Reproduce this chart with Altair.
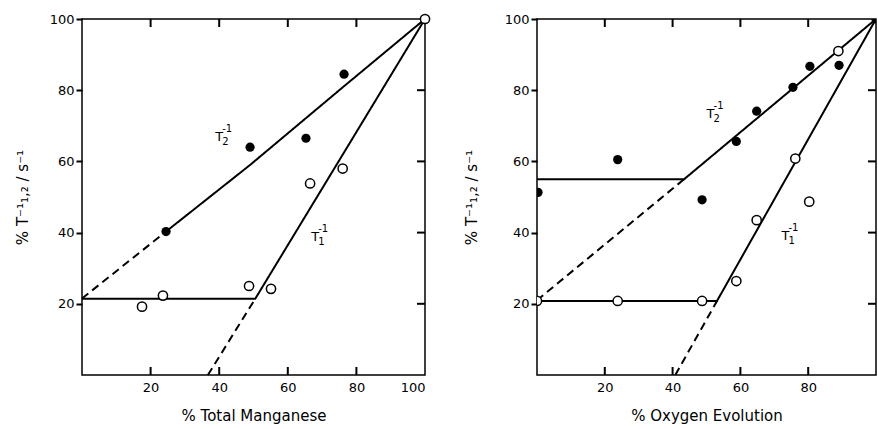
import altair as alt
import pandas as pd

FONT = "DejaVu Sans"

# ---------------- Left panel: % Total Manganese ----------------
L_T2_X = [24.5, 49, 65.3, 76.4]
L_T2_Y = [40.3, 64, 66.5, 84.5]
L_T1_X = [17.5, 23.6, 48.7, 55.1, 66.5, 76, 100]
L_T1_Y = [19.2, 22.3, 25, 24.2, 53.8, 58, 100]

L_T2_SOLID_X = [24.5, 49, 76, 100]
L_T2_SOLID_Y = [40.3, 59, 80.8, 100]
L_T2_DASH_X = [0, 24.5]
L_T2_DASH_Y = [21.5, 40.3]
L_T1_SOLID_X = [0, 50.5, 100]
L_T1_SOLID_Y = [21.4, 21.4, 100]
L_T1_DASH_X = [36.7, 50.5]
L_T1_DASH_Y = [0, 21.4]

L_LABEL_X = [40, 68]
L_LABEL_Y = [66.8, 38.7]
L_LABEL_SUB = ["2", "1"]

# ---------------- Right panel: % Oxygen Evolution ----------------
R_T2_X = [0.3, 23.8, 48.7, 58.8, 64.8, 75.5, 80.5, 89.1, 100]
R_T2_Y = [51.3, 60.5, 49.2, 65.6, 74.1, 80.8, 86.7, 87, 100]
R_T1_X = [0, 23.8, 48.7, 58.8, 64.8, 76.2, 80.3, 88.9]
R_T1_Y = [20.8, 20.8, 20.8, 26.4, 43.5, 60.8, 48.7, 91]

R_T2_SOLID_X = [0, 43.4, 100]
R_T2_SOLID_Y = [55, 55, 100]
R_T2_DASH_X = [0, 43.4]
R_T2_DASH_Y = [21, 55]
R_T1_SOLID_X = [0, 53.1, 100]
R_T1_SOLID_Y = [20.8, 20.8, 100]
R_T1_DASH_X = [40.8, 53.1]
R_T1_DASH_Y = [0, 20.8]

R_LABEL_X = [51.2, 73.3]
R_LABEL_Y = [73.4, 39]
R_LABEL_SUB = ["2", "1"]

Y_TICKS = [20, 40, 60, 80, 100]
L_X_TICKS = [20, 40, 60, 80, 100]
R_X_TICKS = [20, 40, 60, 80]
INNER_TICKS = [20, 40, 60, 80]

Y_TITLE = "% T\u207b\u00b9\u2081,\u2082 / s\u207b\u00b9"


def lines_df(segs):
    rows = []
    for sid, (xs, ys, style) in enumerate(segs):
        for i, (x, y) in enumerate(zip(xs, ys)):
            rows.append({"x": x, "y": y, "seg": sid, "style": style, "i": i})
    return pd.DataFrame(rows)


def panel(t2x, t2y, t1x, t1y, segs, lx, ly, lsub, xticks, xtitle,
          width, height, ytitle_pad, clip):
    scale = alt.Scale(domain=[0, 100], nice=False, zero=False)
    xaxis = alt.Axis(values=xticks, ticks=False, labelPadding=6,
                     titlePadding=14, domain=False, grid=False)
    yaxis = alt.Axis(values=Y_TICKS, ticks=True, tickSize=6, tickWidth=2,
                     tickColor="black", labelPadding=2,
                     titlePadding=ytitle_pad, domain=False, grid=False)
    X = alt.X("x:Q", scale=scale, axis=xaxis, title=xtitle)
    Y = alt.Y("y:Q", scale=scale, axis=yaxis, title=Y_TITLE)

    # inward ticks on the top, bottom and right edges of the frame
    xt = pd.DataFrame({"x": INNER_TICKS})
    yt = pd.DataFrame({"y": INNER_TICKS})
    top_ticks = alt.Chart(xt).mark_tick(
        color="#000000", orient="vertical", size=8, thickness=2, opacity=1
    ).encode(x=X, y=alt.value(4))
    bottom_ticks = alt.Chart(xt).mark_tick(
        color="#000000", orient="vertical", size=8, thickness=2, opacity=1
    ).encode(x=X, y=alt.value(height - 4))
    right_ticks = alt.Chart(yt).mark_tick(
        color="#000000", orient="horizontal", size=8, thickness=2, opacity=1
    ).encode(y=Y, x=alt.value(width - 4))

    ldf = lines_df(segs)
    lines = alt.Chart(ldf).mark_line(color="black", strokeWidth=2, clip=clip).encode(
        x=X, y=Y, detail="seg:N", order="i:Q",
        strokeDash=alt.StrokeDash(
            "style:N",
            scale=alt.Scale(domain=["solid", "dashed"], range=[[1, 0], [8, 5]]),
            legend=None),
    )

    filled = alt.Chart(pd.DataFrame({"x": t2x, "y": t2y})).mark_point(
        shape="circle", filled=True, color="black", size=85, opacity=1, clip=clip
    ).encode(x=X, y=Y)
    opened = alt.Chart(pd.DataFrame({"x": t1x, "y": t1y})).mark_point(
        shape="circle", filled=True, fill="white", stroke="black",
        strokeWidth=1.5, size=85, opacity=1, clip=clip
    ).encode(x=X, y=Y)

    lab = pd.DataFrame({"x": lx, "y": ly, "sub": lsub})
    t_main = alt.Chart(lab).mark_text(
        text="T", font=FONT, fontSize=13, align="center", baseline="middle",
        color="black", clip=clip
    ).encode(x=X, y=Y)
    t_sup = alt.Chart(lab).mark_text(
        text="-1", font=FONT, fontSize=10, align="left", baseline="middle",
        dx=3, dy=-8, color="black", clip=clip
    ).encode(x=X, y=Y)
    t_sub = alt.Chart(lab).mark_text(
        font=FONT, fontSize=10, align="left", baseline="middle",
        dx=3, dy=5, color="black", clip=clip
    ).encode(x=X, y=Y, text="sub:N")

    return alt.layer(
        lines, filled, opened, t_main, t_sup, t_sub,
        top_ticks, bottom_ticks, right_ticks,
    ).properties(width=width, height=height)


left = panel(
    L_T2_X, L_T2_Y, L_T1_X, L_T1_Y,
    [(L_T2_SOLID_X, L_T2_SOLID_Y, "solid"), (L_T2_DASH_X, L_T2_DASH_Y, "dashed"),
     (L_T1_SOLID_X, L_T1_SOLID_Y, "solid"), (L_T1_DASH_X, L_T1_DASH_Y, "dashed")],
    L_LABEL_X, L_LABEL_Y, L_LABEL_SUB, L_X_TICKS, "% Total Manganese",
    343, 356, 19, False,
)

right = panel(
    R_T2_X, R_T2_Y, R_T1_X, R_T1_Y,
    [(R_T2_SOLID_X, R_T2_SOLID_Y, "solid"), (R_T2_DASH_X, R_T2_DASH_Y, "dashed"),
     (R_T1_SOLID_X, R_T1_SOLID_Y, "solid"), (R_T1_DASH_X, R_T1_DASH_Y, "dashed")],
    R_LABEL_X, R_LABEL_Y, R_LABEL_SUB, R_X_TICKS, "% Oxygen Evolution",
    339, 356, 25, True,
)

chart = alt.hconcat(left, right, spacing=29).properties(
    padding={"left": 14, "top": 10, "right": 0, "bottom": 0},
    background="white",
).configure_view(
    stroke="black", strokeWidth=1.5
).configure_axis(
    labelFont=FONT, labelFontSize=13, labelColor="black",
    titleFont=FONT, titleFontSize=15, titleFontWeight="normal", titleColor="black",
)

chart.save("out.html", embed_options={"renderer": "svg", "actions": False})
